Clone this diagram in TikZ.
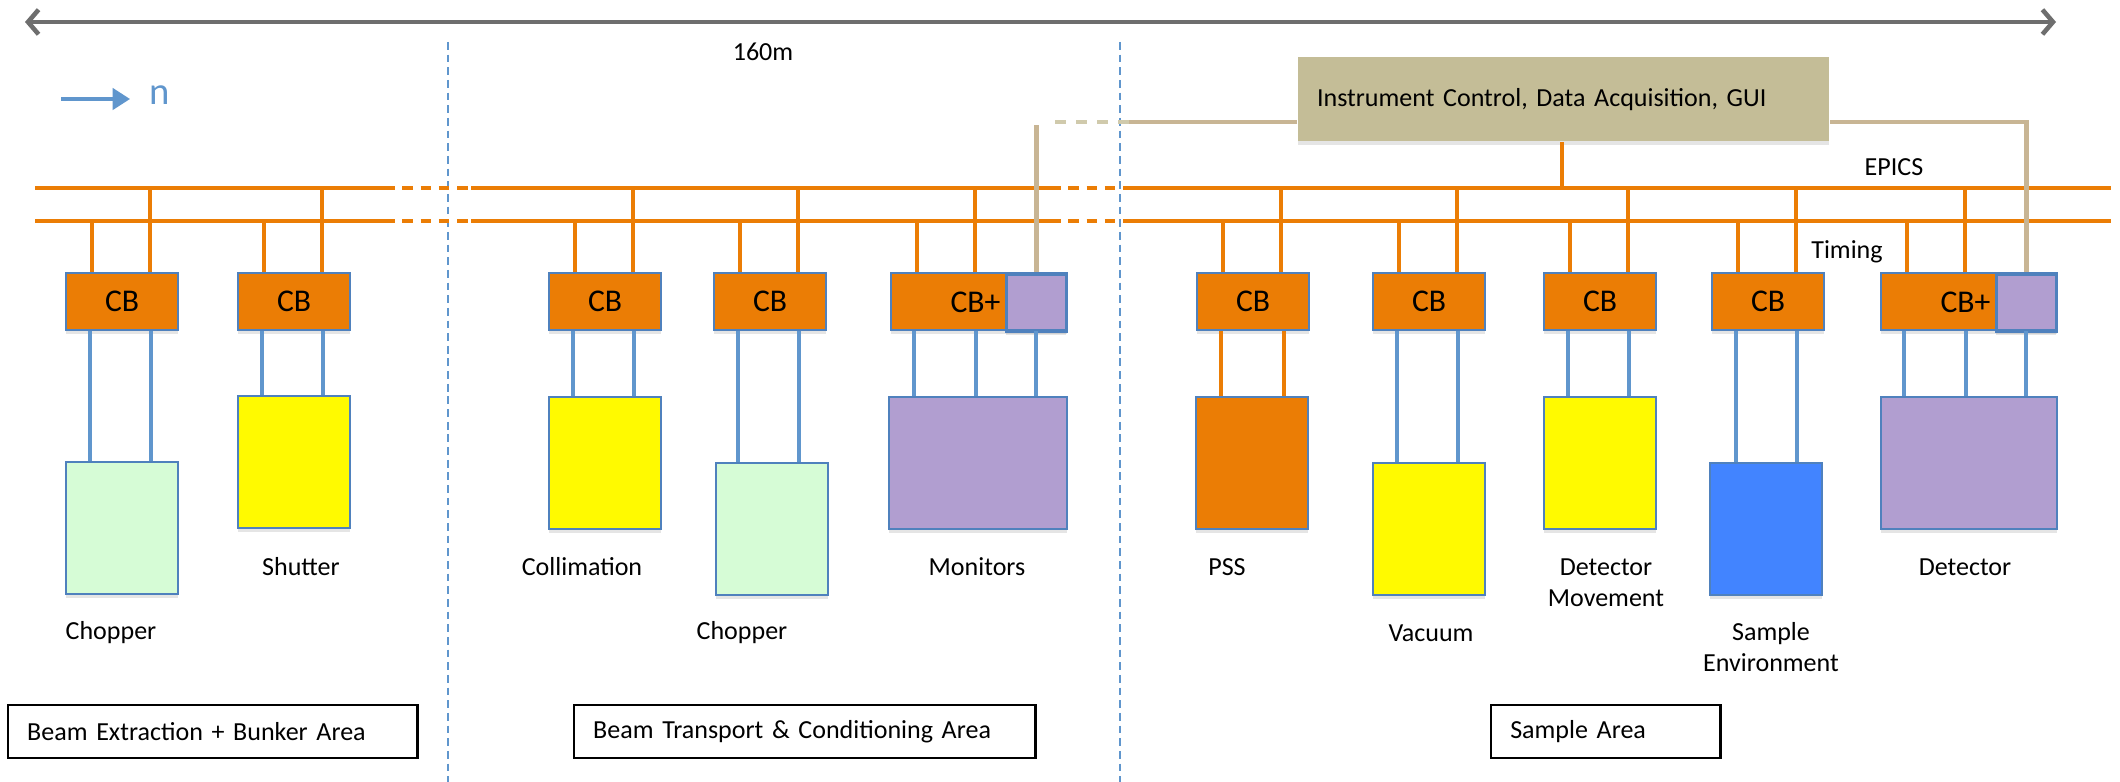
\documentclass[tikz,border=0pt]{standalone}
\usepackage{fontspec}
\setmainfont{Carlito}
\usetikzlibrary{arrows.meta,calc,shadows}
\definecolor{ctl.or}{RGB}{235,125,5}
\definecolor{ctl.edge}{RGB}{79,129,189}
\definecolor{ctl.wire}{RGB}{96,150,205}
\definecolor{ctl.green}{RGB}{214,252,214}
\definecolor{ctl.yel}{RGB}{255,250,0}
\definecolor{ctl.lila}{RGB}{177,158,208}
\definecolor{ctl.blue}{RGB}{66,132,255}
\definecolor{ctl.tan}{RGB}{196,189,151}
\definecolor{ctl.gui}{RGB}{200,181,148}
\definecolor{ctl.grey}{RGB}{110,110,110}

\begin{document}
\begin{tikzpicture}[x=0.01cm, y=-0.01cm]
  \tikzset{box/.style={draw=ctl.edge, line width=0.6pt, anchor=north west,
      inner sep=0, drop shadow={opacity=0.2, shadow xshift=0pt,
        shadow yshift=-1.2pt}},
    cb/.style={box, fill=ctl.or, minimum width=1.12cm, minimum height=0.57cm,
      font=\fontsize{9}{11}\selectfont},
    dev/.style={box, minimum width=1.12cm, minimum height=1.32cm},
    lbl/.style={font=\fontsize{7.4}{8.9}\selectfont, align=center},
    area/.style={draw, line width=0.7pt, fill=white, anchor=north west,
      minimum height=0.53cm, inner xsep=0.19cm, align=left,
      font=\fontsize{7.4}{8.9}\selectfont},
    bus/.style={ctl.or, line width=1.4pt},
    gap/.style={ctl.or, line width=1pt, dash pattern=on 3pt off 2.2pt},
    wire/.style={ctl.wire, line width=1.3pt},
    gui/.style={ctl.gui, line width=1.3pt},
    divider/.style={ctl.wire, line width=0.5pt, dash pattern=on 2.2pt off 1.4pt},
    span/.style={ctl.grey, line width=1.3pt,
      {Straight Barb[length=3pt,width=7pt]}-{Straight Barb[length=3pt,width=7pt]}}}
  \path[use as bounding box, fill=white] (0,0) rectangle (2120,782);

  \coordinate (l0) at (25,22);
  \coordinate (l1) at (2056,22);
  \draw[span] (l0) -- (l1);
  \node[lbl] (len) at (763,52) {160m};

  \node[font=\fontsize{11}{13}\selectfont, text=ctl.wire, inner xsep=0.19cm,
    inner ysep=0] (n) at (160,95) {n};
  \coordinate (n0) at (61,99);
  \draw[ctl.wire, line width=1.3pt, -{Triangle[length=5pt,width=6pt]}]
    (n0) -- (n0 -| n.west);

  \coordinate (v0) at (448,42);
  \coordinate (v1) at (448,782);
  \coordinate (v2) at (1120,42);
  \coordinate (v3) at (1120,782);
  \draw[divider] (v0) -- (v1);
  \draw[divider] (v2) -- (v3);

  \coordinate (e0) at (35,188);
  \coordinate (e1) at (384,188);
  \coordinate (e2) at (471,188);
  \coordinate (e3) at (1050,188);
  \coordinate (e4) at (1132,188);
  \coordinate (e5) at (2111,188);
  \coordinate (t0) at (35,221);
  \coordinate (t1) at (384,221);
  \coordinate (t2) at (471,221);
  \coordinate (t3) at (1050,221);
  \coordinate (t4) at (1132,221);
  \coordinate (t5) at (2111,221);
  \draw[bus] (e0) -- (e1);
  \draw[gap] (e1) -- (e2);
  \draw[bus] (e2) -- (e3);
  \draw[gap] (e3) -- (e4);
  \draw[bus] (e4) -- (e5);
  \draw[bus] (t0) -- (t1);
  \draw[gap] (t1) -- (t2);
  \draw[bus] (t2) -- (t3);
  \draw[gap] (t3) -- (t4);
  \draw[bus] (t4) -- (t5);
  \node[lbl] (epics) at (1894,167) {EPICS};
  \node[lbl] (timing) at (1847,252) {Timing};

  \node[box, draw=none, fill=ctl.tan, minimum height=0.84cm, text width=4.93cm,
    inner xsep=0.19cm, align=left, font=\fontsize{7.4}{8.9}\selectfont]
    (icd) at (1297,56) {Instrument Control, Data Acquisition, GUI};
  \coordinate (e6) at (1562,188);
  \draw[bus] (icd.south -| e6) -- (e6);

  \node[cb] (c1) at (65,272) {CB};
  \node[cb] (c2) at (237,272) {CB};
  \node[cb] (c3) at (548,272) {CB};
  \node[cb] (c4) at (713,272) {CB};
  \node[cb, minimum width=1.76cm] (m) at (890,272) {};
  \node[box, fill=ctl.lila, line width=1pt, minimum width=0.6cm,
    minimum height=0.57cm, anchor=north east] (p1) at (m.north east) {};
  \node[font=\fontsize{9}{11}\selectfont, anchor=east, inner xsep=1pt] (mt)
    at (p1.west) {CB+};
  \node[cb] (c5) at (1196,272) {CB};
  \node[cb] (c6) at (1372,272) {CB};
  \node[cb] (c7) at (1543,272) {CB};
  \node[cb] (c8) at (1711,272) {CB};
  \node[cb, minimum width=1.76cm] (dp) at (1880,272) {};
  \node[box, fill=ctl.lila, line width=1pt, minimum width=0.6cm,
    minimum height=0.57cm, anchor=north east] (p2) at (dp.north east) {};
  \node[font=\fontsize{9}{11}\selectfont, anchor=east, inner xsep=1pt] (dt)
    at (p2.west) {CB+};

  \foreach \c in {c1,c2,c3,c4,m,c5,c6,c7,c8,dp} {
    \draw[bus, line width=1.2pt] ($(\c.north west)+(27,0)$) coordinate (s)
      -- (s |- t0);
    \draw[bus, line width=1.2pt] ($(\c.north west)+(85,0)$) coordinate (s)
      -- (s |- e0);
  }

  \coordinate (g0) at (1129,122);
  \coordinate (g1) at (1046,122);
  \coordinate (g2) at (1035,125);
  \draw[gui] (icd.west |- g0) -- (g0);
  \draw[gui, ctl.tan!80, dash pattern=on 3pt off 3pt] (g0) -- (g1);
  \draw[gui] (p1.north) -- (p1.north |- g2);
  \draw[gui] (icd.east |- g0) -| (p2.north);

  \node[dev, fill=ctl.green] (d1) at (65,461) {};
  \node[dev, fill=ctl.yel] (d2) at (237,395) {};
  \node[dev, fill=ctl.yel] (d3) at (548,396) {};
  \node[dev, fill=ctl.green] (d4) at (715,462) {};
  \node[dev, fill=ctl.lila, minimum width=1.78cm] (d5) at (888,396) {};
  \node[dev, fill=ctl.or] (d6) at (1195,396) {};
  \node[dev, fill=ctl.yel] (d7) at (1372,462) {};
  \node[dev, fill=ctl.yel] (d8) at (1543,396) {};
  \node[dev, fill=ctl.blue] (d9) at (1709,462) {};
  \node[dev, fill=ctl.lila, minimum width=1.76cm] (d10) at (1880,396) {};

  \foreach \c/\d in {c1/d1,c2/d2,c3/d3,c4/d4,c6/d7,c7/d8,c8/d9}
    \foreach \o in {25,86}
      \draw[wire] ($(\c.south west)+(\o,0)$) coordinate (s) -- (s |- \d.north);
  \foreach \c/\d in {m/d5,dp/d10}
    \foreach \o in {24,86,146}
      \draw[wire] ($(\c.south west)+(\o,0)$) coordinate (s) -- (s |- \d.north);
  \foreach \o in {25,88}
    \draw[bus, line width=1.2pt] ($(c5.south west)+(\o,0)$) coordinate (s)
      -- (s |- d6.north);

  \node[lbl] (l1) at (111,633) {Chopper};
  \node[lbl] (l2) at (301,567) {Shutter};
  \node[lbl] (l3) at (582,567) {Collimation};
  \node[lbl] (l4) at (742,633) {Chopper};
  \node[lbl] (l5) at (977,567) {Monitors};
  \node[lbl] (l6) at (1227,567) {PSS};
  \node[lbl] (l7) at (1431,633) {Vacuum};
  \node[lbl, anchor=north] (l8) at (1606,546) {Detector\\Movement};
  \node[lbl, anchor=north] (l9) at (1771,610) {Sample\\Environment};
  \node[lbl] (l10) at (1965,567) {Detector};

  \node[area, text width=3.71cm] (a1) at (7,704) {Beam Extraction + Bunker Area};
  \node[area, text width=4.23cm] (a2) at (573,704) {Beam Transport \& Conditioning Area};
  \node[area, text width=1.91cm] (a3) at (1490,704) {Sample Area};
\end{tikzpicture}
\end{document}
